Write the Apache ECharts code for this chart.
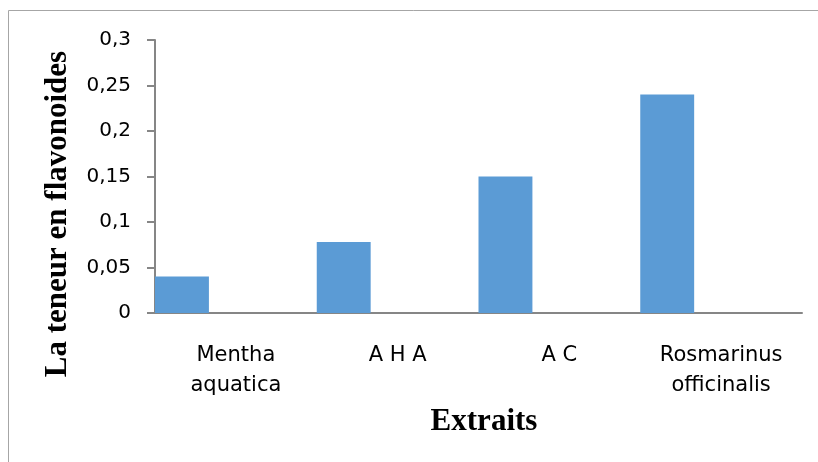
<!DOCTYPE html>
<html>
<head>
<meta charset="utf-8">
<script src="https://cdn.jsdelivr.net/npm/echarts@6/dist/echarts.min.js"></script>
<style>
  html, body { margin: 0; padding: 0; background: #fff; }
  #chart { width: 818px; height: 462px; }
</style>
</head>
<body>
<div id="chart"></div>
<script>
// Extract names shown under the bars
const categories = ['Mentha\naquatica', 'A H A', 'A C', 'Rosmarinus\nofficinalis'];
// Flavonoid content per extract
const flavonoidValues = [0.04, 0.078, 0.15, 0.24];
// Empty companion series (keeps each bar on the left third of its slot)
const emptyValues = [null, null, null, null];
// Value axis range and step
const yMin = 0;
const yMax = 0.3;
const yStep = 0.05;

const axisGray = '#868686';
const barBlue = '#5B9BD5';

const chart = echarts.init(document.getElementById('chart'), null, { renderer: 'canvas' });

chart.setOption({
  animation: false,
  backgroundColor: '#ffffff',
  graphic: [{
    type: 'rect',
    shape: { x: 8.5, y: 10.5, width: 830, height: 470 },
    style: { fill: 'none', stroke: '#a6a6a6', lineWidth: 1 },
    silent: true
  }],
  grid: [
    // plotting area
    { left: 155, right: 16, top: 40, bottom: 149, containLabel: false },
    // area used to place the two axis titles
    { left: 155, right: 5, top: 115, bottom: 149, containLabel: false }
  ],
  xAxis: [
    {
      type: 'category',
      gridIndex: 0,
      data: categories,
      axisLine: { show: true, lineStyle: { color: axisGray, width: 2 } },
      axisTick: { show: false },
      axisLabel: {
        show: true,
        margin: 28,
        fontFamily: 'DejaVu Sans',
        fontSize: 21,
        lineHeight: 30,
        color: '#000000',
        interval: 0
      },
      splitLine: { show: false }
    },
    {
      type: 'category',
      gridIndex: 1,
      data: categories,
      axisLine: { show: false },
      axisTick: { show: false },
      axisLabel: { show: false },
      name: 'Extraits',
      nameLocation: 'middle',
      nameGap: 93,
      nameTextStyle: {
        fontFamily: 'Liberation Serif',
        fontWeight: 'bold',
        fontSize: 31,
        color: '#000000'
      }
    }
  ],
  yAxis: [
    {
      type: 'value',
      gridIndex: 0,
      min: yMin,
      max: yMax,
      interval: yStep,
      axisLine: { show: true, lineStyle: { color: axisGray, width: 2 } },
      axisTick: { show: true, inside: false, length: 8, lineStyle: { color: axisGray, width: 2 } },
      splitLine: { show: false },
      axisLabel: {
        margin: 24,
        fontFamily: 'DejaVu Sans',
        fontSize: 20,
        color: '#000000',
        formatter: function (v) {
          return String(Math.round(v * 100) / 100).replace('.', ',');
        }
      }
    },
    {
      type: 'value',
      gridIndex: 1,
      min: 0,
      max: 1,
      axisLine: { show: false },
      axisTick: { show: false },
      axisLabel: { show: false },
      splitLine: { show: false },
      name: 'La teneur en flavonoides',
      nameLocation: 'middle',
      nameRotate: 90,
      nameGap: 82,
      nameTextStyle: {
        fontFamily: 'Liberation Serif',
        fontWeight: 'bold',
        fontSize: 31,
        color: '#000000'
      }
    }
  ],
  series: [
    {
      type: 'bar',
      xAxisIndex: 0,
      yAxisIndex: 0,
      data: flavonoidValues,
      barGap: '100%',
      barCategoryGap: 0,
      itemStyle: { color: barBlue },
      silent: true
    },
    {
      type: 'bar',
      xAxisIndex: 0,
      yAxisIndex: 0,
      data: emptyValues,
      barGap: '100%',
      barCategoryGap: 0,
      itemStyle: { color: '#ED7D31' },
      silent: true
    }
  ]
});
</script>
</body>
</html>
